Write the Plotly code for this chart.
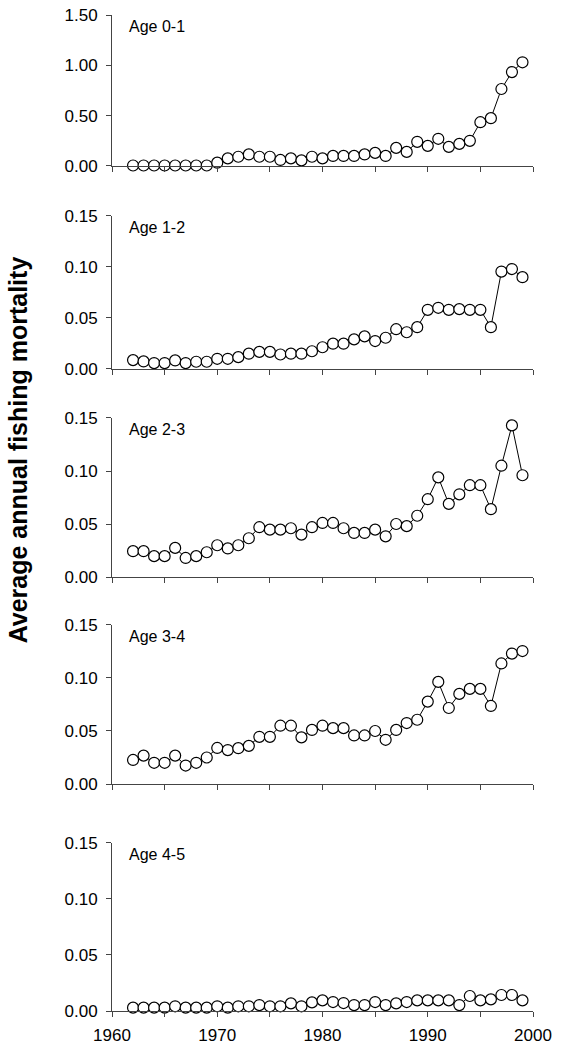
import plotly.graph_objects as go

years = list(range(1962, 2000))

age_0_1 = [0.005, 0.005, 0.005, 0.005, 0.005, 0.005, 0.005, 0.005, 0.033, 0.076,
           0.092, 0.115, 0.092, 0.092, 0.060, 0.076, 0.056, 0.092, 0.076, 0.100,
           0.100, 0.100, 0.115, 0.130, 0.100, 0.180, 0.140, 0.240, 0.200, 0.270,
           0.190, 0.220, 0.250, 0.435, 0.475, 0.765, 0.933, 1.030]

age_1_2 = [0.0087, 0.0074, 0.0058, 0.0058, 0.0084, 0.0058, 0.0071, 0.0071, 0.0100, 0.0100,
           0.0116, 0.0150, 0.0168, 0.0168, 0.0142, 0.0150, 0.0150, 0.0174, 0.0213, 0.0248,
           0.0248, 0.0290, 0.0320, 0.0274, 0.0306, 0.0390, 0.0360, 0.0410, 0.0580, 0.0600,
           0.0580, 0.0587, 0.0580, 0.0580, 0.0410, 0.0955, 0.0980, 0.0900]

age_2_3 = [0.0244, 0.0244, 0.0197, 0.0197, 0.0275, 0.0180, 0.0197, 0.0234, 0.0300, 0.0270,
           0.0300, 0.0366, 0.0470, 0.0447, 0.0447, 0.0460, 0.0400, 0.0470, 0.0510, 0.0510,
           0.0460, 0.0416, 0.0416, 0.0447, 0.0384, 0.0500, 0.0480, 0.0578, 0.0734, 0.0940,
           0.0690, 0.0780, 0.0866, 0.0866, 0.0640, 0.1050, 0.1430, 0.0960]

age_3_4 = [0.0227, 0.0268, 0.0200, 0.0200, 0.0268, 0.0174, 0.0200, 0.0250, 0.0340, 0.0320,
           0.0338, 0.0360, 0.0445, 0.0445, 0.0550, 0.0550, 0.0440, 0.0510, 0.0550, 0.0527,
           0.0527, 0.0458, 0.0458, 0.0500, 0.0417, 0.0510, 0.0575, 0.0606, 0.0777, 0.0963,
           0.0717, 0.0850, 0.0897, 0.0897, 0.0736, 0.1137, 0.1230, 0.1254]

age_4_5 = [0.0030, 0.0030, 0.0030, 0.0030, 0.0042, 0.0030, 0.0030, 0.0030, 0.0042, 0.0030,
           0.0042, 0.0042, 0.0053, 0.0042, 0.0042, 0.0068, 0.0042, 0.0077, 0.0095, 0.0080,
           0.0071, 0.0053, 0.0053, 0.0080, 0.0053, 0.0068, 0.0080, 0.0095, 0.0095, 0.0095,
           0.0095, 0.0053, 0.0134, 0.0095, 0.0104, 0.0143, 0.0143, 0.0095]

panel_labels = ["Age 0-1", "Age 1-2", "Age 2-3", "Age 3-4", "Age 4-5"]
panel_series = [age_0_1, age_1_2, age_2_3, age_3_4, age_4_5]
panel_ymax = [1.5, 0.15, 0.15, 0.15, 0.15]
panel_ydtick = [0.5, 0.05, 0.05, 0.05, 0.05]

x_ticks = list(range(1960, 2001, 5))
x_ticktext = [str(v) if v % 10 == 0 else "" for v in x_ticks]

# vertical extents of the five stacked panels (paper fraction)
domains = [[0.8484, 1.0], [0.6446, 0.7982], [0.4357, 0.5954], [0.2279, 0.3876], [0.0, 0.1687]]

FONT = "Liberation Sans, Arial, Helvetica, sans-serif"
AXIS_COLOR = "#444444"

fig = go.Figure()
layout = dict(
    width=566, height=1048,
    margin=dict(l=112, r=33, t=15, b=37),
    paper_bgcolor="white", plot_bgcolor="white",
    showlegend=False,
    font=dict(family=FONT, size=17, color="black"),
)
annotations = []

for i, (label, vals, ymax, dt) in enumerate(zip(panel_labels, panel_series, panel_ymax, panel_ydtick)):
    n = "" if i == 0 else str(i + 1)
    fig.add_trace(go.Scatter(
        x=years, y=vals, mode="lines+markers",
        xaxis="x" + n, yaxis="y" + n,
        line=dict(color="black", width=1),
        marker=dict(symbol="circle", size=11, color="white",
                    line=dict(color="black", width=1.2)),
        cliponaxis=False,
    ))
    layout["xaxis" + n] = dict(
        domain=[0, 1], anchor="y" + n, range=[1960, 2000],
        tickmode="array", tickvals=x_ticks, ticktext=x_ticktext,
        showticklabels=(i == 4), ticks="outside", ticklen=5, tickwidth=1,
        tickcolor=AXIS_COLOR, showline=True, linecolor=AXIS_COLOR, linewidth=1,
        showgrid=False, zeroline=False, tickfont=dict(size=17),
        ticklabelstandoff=4, automargin=False,
    )
    layout["yaxis" + n] = dict(
        domain=domains[i], anchor="x" + n, range=[0, ymax],
        tick0=0, dtick=dt, tickformat=".2f",
        ticks="outside", ticklen=5, tickwidth=1, tickcolor=AXIS_COLOR,
        showline=True, linecolor=AXIS_COLOR, linewidth=1,
        showgrid=False, zeroline=False, tickfont=dict(size=17),
        ticklabelstandoff=5, automargin=False,
    )
    annotations.append(dict(
        text=label, xref="x" + n + " domain", yref="y" + n + " domain",
        x=0.036, y=1, xanchor="left", yanchor="top", yshift=-1,
        showarrow=False, font=dict(size=16, color="black"),
    ))

annotations.append(dict(
    text="<b>Average annual fishing mortality</b>", xref="paper", yref="paper",
    x=-0.223, y=0.563, xanchor="center", yanchor="middle", textangle=-90,
    showarrow=False, font=dict(size=25, color="black"),
))
layout["annotations"] = annotations
fig.update_layout(**layout)

fig.write_html("out.html")
